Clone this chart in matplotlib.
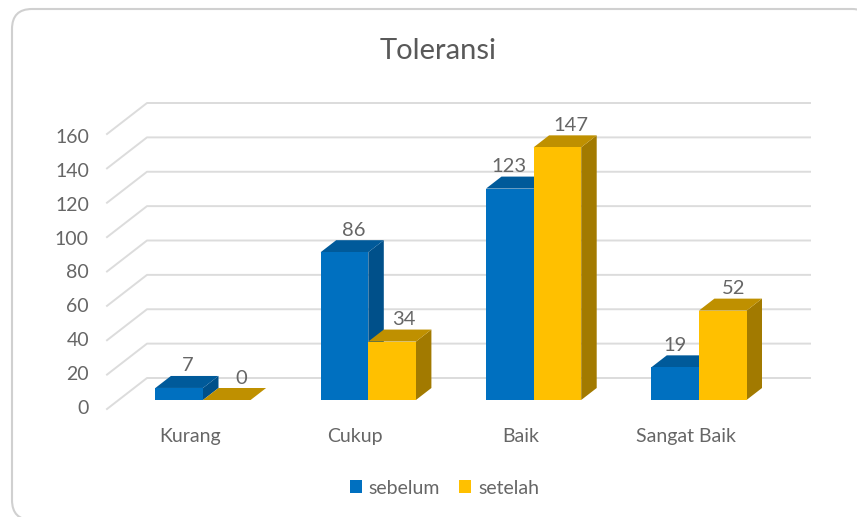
import numpy as np
import matplotlib
matplotlib.use("Agg")
import matplotlib.pyplot as plt
from matplotlib.patches import FancyBboxPatch, Polygon

categories = ["Kurang", "Cukup", "Baik", "Sangat Baik"]
sebelum = [7, 86, 123, 19]
setelah = [0, 34, 147, 52]
yticks = [0, 20, 40, 60, 80, 100, 120, 140, 160]

W, H = 857, 517
plt.rcParams['font.family'] = ['Lato', 'DejaVu Sans']
text_col = '#666666'
grid_col = '#DCDCDC'

fig = plt.figure(figsize=(W / 100, H / 100), dpi=100)

# rounded chart frame, in pixels
frame = FancyBboxPatch((12, 9), 860, 511, boxstyle="round,pad=0,rounding_size=20",
                       fc='white', ec='#D0D0D0', lw=1.5, zorder=-1)
frame.set_transform(matplotlib.transforms.Affine2D().scale(1, -1).translate(0, H))
fig.add_artist(frame)

# axes: y=0 is the base of the bars (px 400), axes run on below it so the 0 tick label fits
left, right, top, base, bottom = 107, 810, 125, 400, 420
ax = fig.add_axes([left / W, 1 - bottom / H, (right - left) / W, (bottom - top) / H])
ax.patch.set_alpha(0)
px_y = (base - top) / 160
px_x = 165.3
for s in ax.spines.values():
    s.set_visible(False)

# px offsets turned into data units
def ox(p):
    return p / px_x

def oy(p):
    return p / px_y

x = np.arange(len(categories))
# the labels run on the front plane, a little tighter than the bars
ax.set_yticks(np.array(yticks) * 271 / 275 - oy(7), [str(v) for v in yticks])
ax.set_xticks(x - ox(13), categories)
ax.tick_params(axis='y', length=0, pad=13, labelsize=14, labelcolor=text_col)
ax.tick_params(axis='x', length=0, pad=6, labelsize=14, labelcolor=text_col)
ax.set_ylim(-oy(bottom - base), 160)
ax.set_xlim((left - 203) / px_x, (right - 203) / px_x)

# back wall grid lines and floor lines
x0, x1 = ax.get_xlim()
for v in yticks:
    ax.plot([x0, x0 + ox(40), x1], [v - oy(9), v + oy(22), v + oy(22)],
            color=grid_col, lw=1.4, clip_on=False, zorder=1)

bw = 47.6 / px_x
bar_dx, bar_dy = ox(15.5), oy(12)


def bar3d(xs, vals, face, topc, side, z):
    bars = ax.bar(xs, vals, bw, color=face, zorder=z + 0.2, clip_on=False)
    for x, v in zip(xs, vals):
        l, r = x - bw / 2, x + bw / 2
        ax.add_patch(Polygon([(r, 0), (r + bar_dx, bar_dy), (r + bar_dx, v + bar_dy), (r, v)],
                             fc=side, ec='none', zorder=z, clip_on=False))
        ax.add_patch(Polygon([(l, v), (l + bar_dx, v + bar_dy), (r + bar_dx, v + bar_dy), (r, v)],
                             fc=topc, ec='none', zorder=z + 0.1, clip_on=False))
    return bars


b1 = bar3d(x - bw / 2, sebelum, '#0070C0', '#005A9A', '#00508A', 2)
b2 = bar3d(x + bw / 2, setelah, '#FFC000', '#BF9000', '#A27A00', 3)

# value labels sit up and to the right of the front face
nudge1 = [8, 9, -1, 0]
nudge2 = [14, 12, 13, 11]
for i in range(len(categories)):
    ax.text(x[i] - bw / 2 + ox(nudge1[i]), sebelum[i] + oy(22), str(sebelum[i]),
            ha='center', va='center', fontsize=14.5, color=text_col, zorder=6)
    ax.text(x[i] + bw / 2 + ox(nudge2[i]), setelah[i] + oy(22), str(setelah[i]),
            ha='center', va='center', fontsize=14.5, color=text_col, zorder=6)

fig.text(438 / W, 1 - 51 / H, "Toleransi", ha='center', va='center', fontsize=21, color='#595959')

leg = fig.legend([b1, b2], ["sebelum", "setelah"], loc='center', ncol=2,
                 bbox_to_anchor=(444.5 / W, 1 - 488 / H), frameon=False, fontsize=14,
                 labelcolor=text_col, handlelength=0.62, handleheight=0.62,
                 handletextpad=0.35, columnspacing=1.0)

fig.savefig("out.png", dpi=100)
